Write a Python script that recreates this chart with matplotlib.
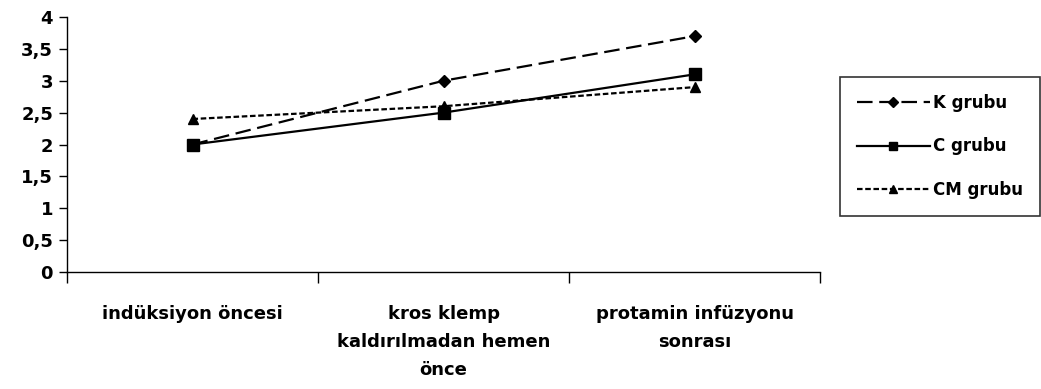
import matplotlib
matplotlib.use("Agg")
import matplotlib.pyplot as plt
from matplotlib.ticker import FixedLocator, NullFormatter

plt.rcParams['font.family'] = ['Liberation Sans Narrow', 'DejaVu Sans']
plt.rcParams['font.weight'] = 'bold'

categories = ['indüksiyon öncesi', 'kros klemp\nkaldırılmadan hemen\nönce', 'protamin infüzyonu\nsonrası']
k_grubu = [2.0, 3.0, 3.7]
c_grubu = [2.0, 2.5, 3.1]
cm_grubu = [2.4, 2.6, 2.9]
yticks = [0, 0.5, 1, 1.5, 2, 2.5, 3, 3.5, 4]
ytick_labels = ['0', '0,5', '1', '1,5', '2', '2,5', '3', '3,5', '4']

fig = plt.figure(figsize=(10.41, 3.89), dpi=100)
ax = fig.add_axes([67/1041, 1 - 272/389, (820 - 67)/1041, (272 - 17)/389])

x = range(len(categories))
ax.plot(x, k_grubu, color='black', lw=1.6, ls=(0, (7, 3)), marker='D', ms=6, label='K grubu')
ax.plot(x, c_grubu, color='black', lw=1.6, ls='-', marker='s', ms=8, label='C grubu')
ax.plot(x, cm_grubu, color='black', lw=1.6, ls=(0, (2.5, 1.2)), marker='^', ms=7, label='CM grubu')

ax.set_xlim(-0.5, 2.5)
ax.set_ylim(0, 4)
ax.set_yticks(yticks)
ax.set_yticklabels(ytick_labels, fontsize=13)

# boundary ticks between categories, labels centred on categories
ax.xaxis.set_major_locator(FixedLocator([-0.5, 0.5, 1.5, 2.5]))
ax.xaxis.set_major_formatter(NullFormatter())
ax.set_xticks([0, 1, 2], minor=True)
ax.set_xticklabels(categories, minor=True, fontsize=13, linespacing=1.7, va='top')
ax.tick_params(axis='x', which='minor', length=0, pad=24)
ax.tick_params(axis='x', which='major', length=8, width=1, direction='out')
ax.tick_params(axis='y', length=6, width=1, direction='out', pad=4)

for side in ['top', 'right']:
    ax.spines[side].set_visible(False)
for side in ['left', 'bottom']:
    ax.spines[side].set_linewidth(1)

leg = ax.legend(loc='upper left', bbox_to_anchor=(840/1041, 1 - 77/389), bbox_transform=fig.transFigure,
                frameon=True, fancybox=False, edgecolor='black', fontsize=12, handlelength=4.4,
                labelspacing=1.55, borderpad=1.0, handletextpad=0.2, markerscale=0.8,
                borderaxespad=0)
leg.get_frame().set_linewidth(1.2)

fig.savefig('out.png', dpi=100)
